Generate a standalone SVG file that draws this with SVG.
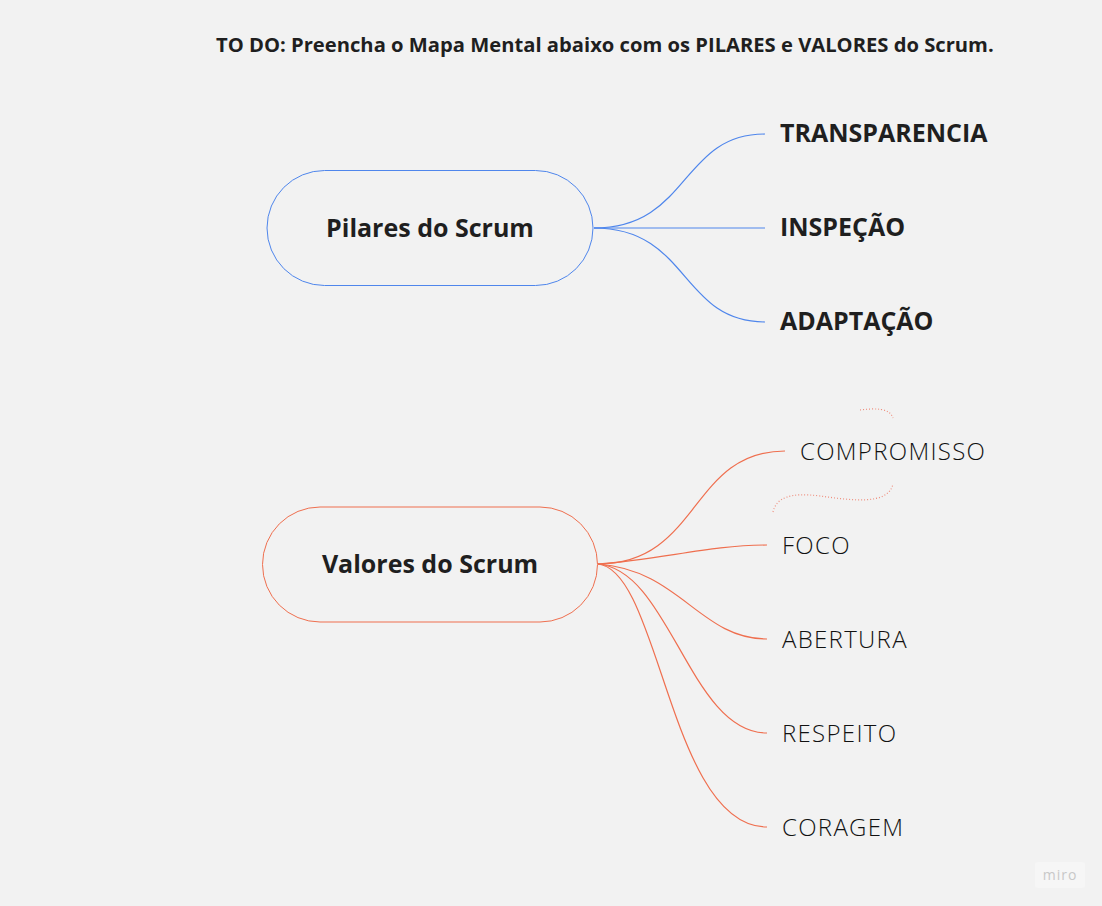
<svg xmlns="http://www.w3.org/2000/svg" width="1102" height="906" viewBox="0 0 1102 906">
<style>
.bg{fill:#f2f2f2}
.t{font-family:"Open Sans","Liberation Sans",sans-serif;fill:#1f1f1f}
.b{font-weight:700}
.l{font-weight:300;fill:#111111;letter-spacing:1.3px}
.pill{fill:#f2f2f2;stroke-width:1}
.blue{fill:none;stroke:#4f86ec;stroke-width:1.2}
.red{fill:none;stroke:#ef6f4f;stroke-width:1.2}
.dot{fill:none;stroke:#ef8f7f;stroke-width:1.2;stroke-dasharray:1 2}
</style>
<rect class="bg" x="0" y="0" width="1102" height="906"/>
<text class="t b" x="216" y="52" font-size="20.2">TO DO: Preencha o Mapa Mental abaixo com os PILARES e VALORES do Scrum.</text>
<g id="connectors">
<path class="blue" d="M594 228 C690 228 680 134 765 134"/>
<path class="blue" d="M594 228 L765 228"/>
<path class="blue" d="M594 228 C690 228 680 322 765 322"/>
<path class="red" d="M598 564 C700 564 690 451 785 451"/>
<path class="red" d="M598 564 C660 560 710 545 767 545"/>
<path class="red" d="M598 564 C680 570 700 639 767 639"/>
<path class="red" d="M598 564 C670 570 690 733 767 733"/>
<path class="red" d="M598 564 C660 570 670 827 767 827"/>
</g>
<g id="pilares">
<rect class="pill" x="267" y="170.5" width="326" height="115" rx="57.5" stroke="#4f86ec"/>
<text class="t b" x="430" y="237" font-size="25" text-anchor="middle">Pilares do Scrum</text>
</g>
<g id="transparencia"><text class="t b" x="780" y="142" font-size="25">TRANSPARENCIA</text></g>
<g id="inspecao"><text class="t b" x="780" y="236" font-size="25">INSPEÇÃO</text></g>
<g id="adaptacao"><text class="t b" x="780" y="330" font-size="25">ADAPTAÇÃO</text></g>
<g id="valores">
<rect class="pill" x="262.5" y="507" width="335" height="115" rx="57.5" stroke="#ef6f4f"/>
<text class="t b" x="430" y="573" font-size="25" text-anchor="middle">Valores do Scrum</text>
</g>
<g id="compromisso">
<path class="dot" d="M860 410 C875 408 890 408 893 418"/>
<path class="dot" d="M773 512 C776 498 790 492 820 496 C850 500 888 506 893 484"/>
<text class="t l" x="800" y="460" font-size="24">COMPROMISSO</text>
</g>
<g id="foco"><text class="t l" x="782" y="554" font-size="24">FOCO</text></g>
<g id="abertura"><text class="t l" x="782" y="648" font-size="24">ABERTURA</text></g>
<g id="respeito"><text class="t l" x="782" y="742" font-size="24">RESPEITO</text></g>
<g id="coragem"><text class="t l" x="782" y="836" font-size="24">CORAGEM</text></g>
<g id="miro">
<rect x="1035" y="862" width="50" height="26" rx="3" fill="#f6f6f6"/>
<text x="1060" y="880" font-family="Open Sans, sans-serif" font-size="14" fill="#c8c8c8" text-anchor="middle" letter-spacing="1">miro</text>
</g>
</svg>
